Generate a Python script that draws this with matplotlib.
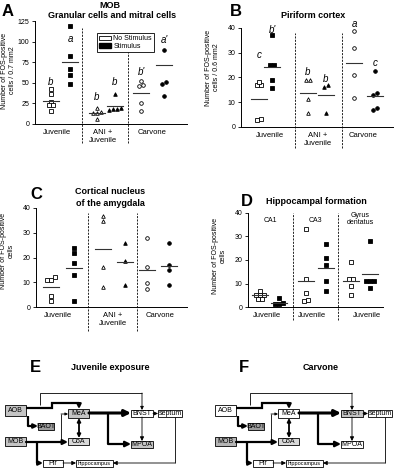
import matplotlib
matplotlib.use("Agg")
import matplotlib.pyplot as plt
from matplotlib.patches import Patch, Rectangle
from matplotlib.transforms import blended_transform_factory

plt.rcParams['font.family'] = ['Liberation Sans', 'DejaVu Sans']

W, H = 400, 468

# ---- data (FOS-positive cells) ----
# A: MOB granular + mitral cells / 0.7 mm2
a_juv_ns = [42, 36, 27, 23, 23, 16]
a_juv_s = [119, 82, 67, 59, 49]
a_ani_ns = [20, 14, 13, 13, 6]
a_ani_s = [36, 20, 18, 17, 18]
a_carv_ns = [52, 46, 47, 26, 16]
a_carv_s = [90, 51, 49, 34]
a_means = [28, 75, 13, 22, 38, 72]
a_letters = ["b", "a", "b", "b", "b'", "a'"]
a_letter_y = [51, 103, 33, 51, 63, 102]

# B: piriform cortex / 0.6 mm2
b_juv_ns = [17, 17, 18.3, 3.4, 2.7]
b_juv_s = [37, 25, 25, 19, 15.6]
b_ani_ns = [19, 19, 11.2, 5.8]
b_ani_s = [17, 16, 5.7]
b_carv_ns = [38.6, 32, 21, 11.8]
b_carv_s = [22.6, 13.7, 12.9, 7.8, 6.8]
b_means = [11.5, 24.4, 13.6, 12.9, 26, 12.7]
b_letters = ["c", "b'", "b", "b", "a", "c"]
b_letter_y = [29, 39.3, 22.4, 19.3, 41.8, 26]

# C: cortical nucleus of the amygdala
c_juv_ns = [12, 11, 11, 4.3, 2.3]
c_juv_s = [24, 22, 17.7, 13, 2.3]
c_ani_ns = [36.8, 34.7, 16, 8]
c_ani_s = [25.7, 18.7, 9]
c_carv_ns = [28, 16, 9.6, 7.2]
c_carv_s = [25.7, 17, 15, 9]
c_means = [8, 15.7, 23.5, 18, 15, 16.7]

# D: hippocampal formation
d_ca1_ns = [7, 5, 5, 5, 3.5, 3.2]
d_ca1_s = [4, 1.6, 1.4, 1.4]
d_ca3_ns = [33, 12, 6, 3.1, 2.4]
d_ca3_s = [27, 21, 18, 11, 7]
d_dg_ns = [19, 12, 12, 9, 5]
d_dg_s = [28, 11, 11, 11, 8]
d_means = [4.9, 1.9, 11.1, 16.7, 11.1, 13.9]

group_labels_abc = ["Juvenile", "ANI +\nJuvenile", "Carvone"]
group_labels_d = ["Juvenile", "Juvenile", "Juvenile"]
d_regions = ["CA1", "CA3", "Gyrus\ndentatus"]

# ---- diagram boxes (E layout, pixel coords) ----
boxes = {
    "AOB": (5, 405, 21, 11),
    "BAOT": (38, 423, 16, 7),
    "MOB": (5, 437, 21, 9),
    "MeA": (68, 409, 21, 9),
    "CoA": (68, 438, 21, 7),
    "BNST": (131, 410, 22, 7),
    "septum": (158, 410, 24, 7),
    "MPOA": (131, 441, 22, 7),
    "Pir": (43, 460, 20, 7),
    "hippocampus": (76, 460, 37, 7),
}
fills_e = {"AOB": "#c4c4c4", "BAOT": "#9c9c9c", "MOB": "#c4c4c4", "MeA": "#c4c4c4",
           "CoA": "#d8d8d8", "BNST": "white", "septum": "white", "MPOA": "#c4c4c4",
           "Pir": "white", "hippocampus": "white"}
fills_f = {"AOB": "white", "BAOT": "#9c9c9c", "MOB": "#b4b4b4", "MeA": "white",
           "CoA": "#d8d8d8", "BNST": "#c4c4c4", "septum": "white", "MPOA": "white",
           "Pir": "white", "hippocampus": "white"}


def spread(vals, tol, step=4):
    order = sorted(range(len(vals)), key=lambda i: vals[i])
    offs = [0] * len(vals)
    clusters = []
    for i in order:
        if clusters and vals[i] - vals[clusters[-1][-1]] < tol:
            clusters[-1].append(i)
        else:
            clusters.append([i])
    for c in clusters:
        n = len(c)
        for k, i in enumerate(c):
            offs[i] = (k - (n - 1) / 2) * step
    return offs


def fig_text(fig, x, y, s, **kw):
    fig.text(x / W, 1 - y / H, s, ha=kw.pop("ha", "center"), va=kw.pop("va", "center"), **kw)


def make_panel(fig, left, top, right, bot, ymax, yticks, groups, markers, centers,
               means, dividers, div_span, labels, label_x, ylabel, ylab_pos, tol):
    wpx, hpx = right - left, bot - top
    ax = fig.add_axes([left / W, 1 - bot / H, wpx / W, hpx / H])
    ax.set_xlim(0, wpx)
    ax.set_ylim(0, ymax)
    for vals, mk, cx, filled in zip(groups, markers, centers, [False, True] * 3):
        offs = spread(vals, tol)
        ax.plot([cx + o for o in offs], vals, linestyle="none", marker=mk, ms=2.6,
                mfc="black" if filled else "white", mec="black", mew=0.6, clip_on=False)
    for cx, m in zip(centers, means):
        ax.plot([cx - 8, cx + 8], [m, m], color="#333333", lw=0.8)
    tr = blended_transform_factory(ax.transData, ax.transAxes)
    for dx, (y0, y1) in zip(dividers, div_span):
        ax.plot([dx, dx], [y0, y1], transform=tr, color="black", lw=0.6,
                linestyle=(0, (2.5, 1.5)), clip_on=False)
    for lx, lab in zip(label_x, labels):
        ax.text(lx, -5 / hpx, lab, transform=tr, ha="center", va="top", fontsize=5.5,
                linespacing=1.2)
    ax.set_xticks([])
    ax.set_yticks(yticks)
    ax.tick_params(axis="y", labelsize=5, length=2.5, width=0.6, pad=1.5)
    for s in ["top", "right"]:
        ax.spines[s].set_visible(False)
    for s in ["left", "bottom"]:
        ax.spines[s].set_linewidth(0.7)
    ax.set_ylabel(ylabel, fontsize=5, linespacing=1.1)
    ax.yaxis.set_label_coords(*ylab_pos)
    return ax


def arrow(ax, pts, lw, head=5):
    if len(pts) > 2:
        ax.plot([p[0] for p in pts[:-1]], [p[1] for p in pts[:-1]], color="black",
                lw=lw, solid_capstyle="butt", solid_joinstyle="miter")
    ax.annotate("", xy=pts[-1], xytext=pts[-2],
                arrowprops=dict(arrowstyle="-|>", lw=lw, color="black", shrinkA=0,
                                shrinkB=0, mutation_scale=head))


def diagram(ax, dx, fills):
    thin, thick = 0.6, 1.6
    for name, (x, y, w, h) in boxes.items():
        ax.add_patch(Rectangle((x + dx, y), w, h, facecolor=fills[name],
                               edgecolor="black", lw=0.6))
        fs = 4 if name == "hippocampus" else 5
        ax.text(x + dx + w / 2, y + h / 2 + 0.3, name, ha="center", va="center", fontsize=fs)
    paths = [
        ([(40, 405), (40, 393), (142, 393), (142, 410)], thin, 5),
        ([(26, 408), (52, 408), (52, 403), (79, 403), (79, 409)], thick, 6),
        ([(28, 416), (28, 426), (38, 426)], thick, 6),
        ([(61, 442), (61, 414), (68, 414)], thin, 4),
        ([(26, 442), (68, 442)], thick, 7),
        ([(37, 442), (37, 463), (43, 463)], thick, 6),
        ([(89, 413), (131, 413)], 2.2, 9),
        ([(108, 413), (108, 444), (131, 444)], thick, 8),
        ([(153, 413.5), (158, 413.5)], thin, 5),
        ([(142, 417), (142, 441)], thin, 6),
        ([(175, 417), (175, 463), (113, 463)], thin, 6),
        ([(63, 463), (76, 463)], thin, 6),
    ]
    for pts, lw, hd in paths:
        arrow(ax, [(x + dx, y) for x, y in pts], lw, hd)
    # MeA <-> CoA
    ax.annotate("", xy=(79 + dx, 418), xytext=(79 + dx, 438),
                arrowprops=dict(arrowstyle="<|-|>", lw=1.3, color="black", shrinkA=0,
                                shrinkB=0, mutation_scale=5))


fig = plt.figure(figsize=(W / 100, H / 100), dpi=100)
ylab_mm = "Number of FOS-positive\ncells / {} mm2"
ylab_c = "Number of FOS-positive\ncells"
abc_markers = ["s", "s", "^", "^", "o", "o"]

ax_a = make_panel(fig, 35, 21, 187, 124, 125, [0, 25, 50, 75, 100, 125],
                  [a_juv_ns, a_juv_s, a_ani_ns, a_ani_s, a_carv_ns, a_carv_s],
                  abc_markers, [16, 35, 62, 80, 106, 129], a_means, [47, 93],
                  [(-0.18, 0.93), (-0.18, 0.86)], group_labels_abc, [22, 68, 117],
                  ylab_mm.format("0.7"), (-0.125, 0.52), 3.5)
for cx, lt, ly in zip([16, 35, 62, 80, 106, 129], a_letters, a_letter_y):
    ax_a.text(cx, ly, lt, style="italic", fontsize=7, ha="center", va="center")
ax_a.legend([Patch(facecolor="white", edgecolor="black", lw=0.6),
             Patch(facecolor="black", edgecolor="black")],
            ["No Stimulus", "Stimulus"], loc="upper left", bbox_to_anchor=(0.41, 0.88),
            fontsize=5, handlelength=1.6, handleheight=0.7, borderpad=0.3,
            labelspacing=0.1, handletextpad=0.4, fancybox=False, edgecolor="black",
            framealpha=1, borderaxespad=0)
ax_a.get_legend().get_frame().set_linewidth(0.6)

ax_b = make_panel(fig, 241, 28, 393, 127, 40, [0, 10, 20, 30, 40],
                  [b_juv_ns, b_juv_s, b_ani_ns, b_ani_s, b_carv_ns, b_carv_s],
                  abc_markers, [18, 31, 67, 85, 113, 134], b_means, [54, 101],
                  [(-0.21, 0.95), (-0.21, 0.95)], group_labels_abc, [29, 77, 122],
                  ylab_mm.format("0.6"), (-0.14, 0.6), 1.2)
for cx, lt, ly in zip([18, 31, 67, 85, 113, 134], b_letters, b_letter_y):
    ax_b.text(cx, ly, lt, style="italic", fontsize=7, ha="center", va="center")

ax_c = make_panel(fig, 36, 208, 187, 307, 40, [0, 10, 20, 30, 40],
                  [c_juv_ns, c_juv_s, c_ani_ns, c_ani_s, c_carv_ns, c_carv_s],
                  abc_markers, [15, 38, 67, 89, 111, 133], c_means, [52, 101],
                  [(-0.24, 0.95), (-0.24, 0.95)], group_labels_abc, [22, 77, 124],
                  ylab_c, (-0.14, 0.57), 1.2)

ax_d = make_panel(fig, 248, 213, 383, 307, 40, [0, 10, 20, 30, 40],
                  [d_ca1_ns, d_ca1_s, d_ca3_ns, d_ca3_s, d_dg_ns, d_dg_s],
                  ["s"] * 6, [12, 31, 58, 78, 103, 122], d_means, [45, 90],
                  [(-0.14, 1.0), (-0.14, 1.0)], group_labels_d, [19, 64, 119],
                  ylab_c, (-0.16, 0.54), 1.3)

# titles and panel letters
fig_text(fig, 8, 12, "A", fontsize=12, fontweight="bold")
fig_text(fig, 110, 5, "MOB", fontsize=6.5, fontweight="bold")
fig_text(fig, 112, 16, "Granular cells and mitral cells", fontsize=6.5, fontweight="bold")
fig_text(fig, 236, 12, "B", fontsize=12, fontweight="bold")
fig_text(fig, 313, 16, "Piriform cortex", fontsize=6.5, fontweight="bold")
fig_text(fig, 36, 194, "C", fontsize=12, fontweight="bold")
fig_text(fig, 110, 191, "Cortical nucleus", fontsize=6.5, fontweight="bold")
fig_text(fig, 110, 204, "of the amygdala", fontsize=6.5, fontweight="bold")
fig_text(fig, 247, 201, "D", fontsize=12, fontweight="bold")
fig_text(fig, 316, 201, "Hippocampal formation", fontsize=6.5, fontweight="bold")
for rx, rl in zip([270, 315, 360], d_regions):
    fig_text(fig, rx, 220 if "\n" not in rl else 219, rl, fontsize=5, linespacing=1.1)
fig_text(fig, 35, 368, "E", fontsize=12, fontweight="bold")
fig_text(fig, 110, 368, "Juvenile exposure", fontsize=6.5, fontweight="bold")
fig_text(fig, 244, 368, "F", fontsize=12, fontweight="bold")
fig_text(fig, 321, 368, "Carvone", fontsize=6.5, fontweight="bold")

ax_diag = fig.add_axes([0, 0, 1, 1])
ax_diag.set_xlim(0, W)
ax_diag.set_ylim(H, 0)
ax_diag.axis("off")
diagram(ax_diag, 0, fills_e)
diagram(ax_diag, 210, fills_f)

fig.savefig("out.png", dpi=100)
